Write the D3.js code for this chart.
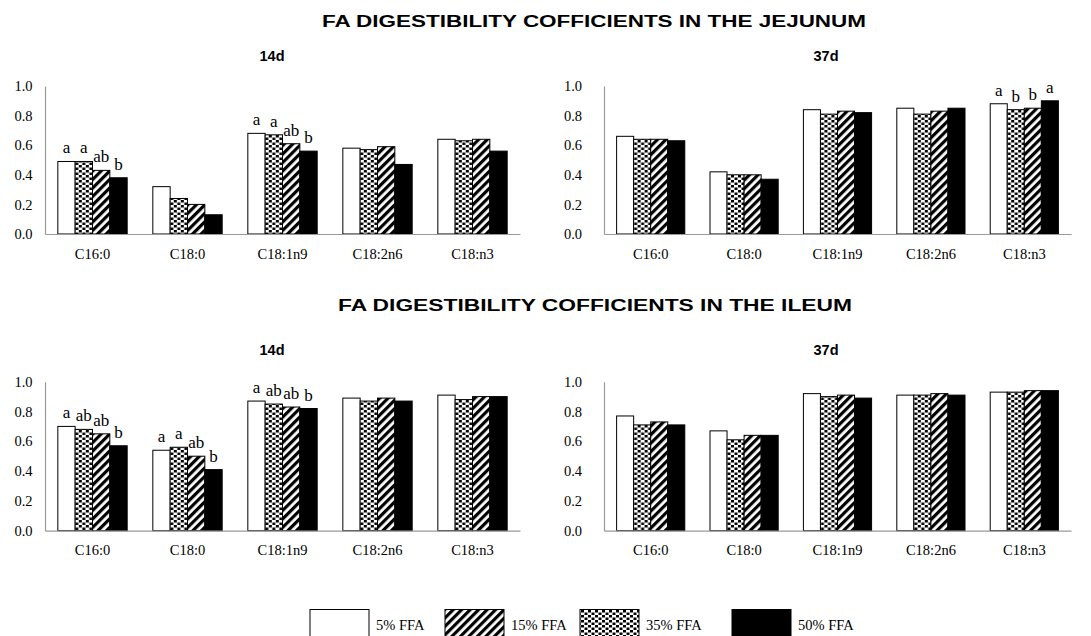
<!DOCTYPE html>
<html>
<head>
<meta charset="utf-8">
<script src="https://cdn.jsdelivr.net/npm/d3@7"></script>
<style>
  html, body { margin: 0; padding: 0; background: #fff; }
  svg { display: block; }
</style>
</head>
<body>
<svg id="chart" width="1091" height="636"></svg>
<script>
// Fatty acids on the x axis
const categories = ["C16:0", "C18:0", "C18:1n9", "C18:2n6", "C18:n3"];

// Dietary free fatty acid levels (legend order)
const levels = ["5% FFA", "15% FFA", "35% FFA", "50% FFA"];
// Order in which the bars stand inside each group
const barOrder = ["5% FFA", "35% FFA", "15% FFA", "50% FFA"];

// Digestibility coefficients, one row per level in the order of `levels`
const jejunum14d = [
  [0.49, 0.32, 0.68, 0.58, 0.64],
  [0.43, 0.20, 0.61, 0.59, 0.64],
  [0.49, 0.24, 0.67, 0.57, 0.63],
  [0.38, 0.13, 0.56, 0.47, 0.56]
];
const jejunum37d = [
  [0.66, 0.42, 0.84, 0.85, 0.88],
  [0.64, 0.40, 0.83, 0.83, 0.85],
  [0.64, 0.40, 0.81, 0.81, 0.84],
  [0.63, 0.37, 0.82, 0.85, 0.90]
];
const ileum14d = [
  [0.70, 0.54, 0.87, 0.89, 0.91],
  [0.65, 0.50, 0.83, 0.89, 0.90],
  [0.68, 0.56, 0.85, 0.87, 0.88],
  [0.57, 0.41, 0.82, 0.87, 0.90]
];
const ileum37d = [
  [0.77, 0.67, 0.92, 0.91, 0.93],
  [0.73, 0.64, 0.91, 0.92, 0.94],
  [0.71, 0.61, 0.90, 0.91, 0.93],
  [0.71, 0.64, 0.89, 0.91, 0.94]
];

// Significance letters, same layout as the values
const jejunum14dLetters = [
  ["a", "", "a", "", ""],
  ["ab", "", "ab", "", ""],
  ["a", "", "a", "", ""],
  ["b", "", "b", "", ""]
];
const jejunum37dLetters = [
  ["", "", "", "", "a"],
  ["", "", "", "", "b"],
  ["", "", "", "", "b"],
  ["", "", "", "", "a"]
];
const ileum14dLetters = [
  ["a", "a", "a", "", ""],
  ["ab", "ab", "ab", "", ""],
  ["ab", "a", "ab", "", ""],
  ["b", "b", "b", "", ""]
];
const ileum37dLetters = [
  ["", "", "", "", ""],
  ["", "", "", "", ""],
  ["", "", "", "", ""],
  ["", "", "", "", ""]
];

const yTicks = [0, 0.2, 0.4, 0.6, 0.8, 1.0];
const sectionTitles = [
  "FA DIGESTIBILITY COFFICIENTS IN THE JEJUNUM",
  "FA DIGESTIBILITY COFFICIENTS IN THE ILEUM"
];

const svg = d3.select("#chart");
svg.append("rect").attr("width", 1091).attr("height", 636).attr("fill", "#fff");

// Fill patterns: staggered square dots and diagonal stripes
const defs = svg.append("defs");
const dots = defs.append("pattern")
  .attr("id", "dots").attr("patternUnits", "userSpaceOnUse")
  .attr("width", 7).attr("height", 5);
dots.append("rect").attr("width", 7).attr("height", 5).attr("fill", "#fff");
dots.append("rect").attr("x", 0).attr("y", 0).attr("width", 3).attr("height", 2.5).attr("fill", "#000");
dots.append("rect").attr("x", 3.5).attr("y", 2.5).attr("width", 3).attr("height", 2.5).attr("fill", "#000");

const hatch = defs.append("pattern")
  .attr("id", "hatch").attr("patternUnits", "userSpaceOnUse")
  .attr("width", 6).attr("height", 6)
  .attr("patternTransform", "rotate(45)");
hatch.append("rect").attr("width", 6).attr("height", 6).attr("fill", "#fff");
hatch.append("rect").attr("width", 3.2).attr("height", 6).attr("fill", "#000");

const fillFor = {
  "5% FFA": "#fff",
  "15% FFA": "url(#hatch)",
  "35% FFA": "url(#dots)",
  "50% FFA": "#000"
};

const serif = "Liberation Serif";
const sans = "Liberation Sans";
const axisGrey = "#9a9a9a";

// Section headings
[[sectionTitles[0], 27], [sectionTitles[1], 310.5]].forEach(([t, yy], i) => {
  svg.append("text")
    .attr("x", i === 0 ? 322 : 338).attr("y", yy)
    .attr("textLength", i === 0 ? 544 : 514)
    .attr("lengthAdjust", "spacingAndGlyphs")
    .style("font-family", sans).style("font-weight", "bold")
    .style("font-size", "16px").attr("fill", "#000")
    .text(t);
});

const panels = [
  { title: "14d", values: jejunum14d, letters: jejunum14dLetters,
    left: 45, right: 520, top: 86, base: 234, titleX: 272, titleY: 61, pad: 12.5 },
  { title: "37d", values: jejunum37d, letters: jejunum37dLetters,
    left: 604, right: 1071, top: 86, base: 234, titleX: 826, titleY: 61, pad: 22 },
  { title: "14d", values: ileum14d, letters: ileum14dLetters,
    left: 45, right: 520, top: 381.7, base: 530.7, titleX: 272, titleY: 355, pad: 12.5 },
  { title: "37d", values: ileum37d, letters: ileum37dLetters,
    left: 604, right: 1071, top: 381.7, base: 530.7, titleX: 826, titleY: 355, pad: 22 }
];

panels.forEach(p => {
  const g = svg.append("g");

  const x0 = d3.scaleBand().domain(categories)
    .range([p.left, p.right]).paddingInner(0.27).paddingOuter(0.135);
  const x1 = d3.scaleBand().domain(barOrder).range([0, x0.bandwidth()]);
  const y = d3.scaleLinear().domain([0, 1]).range([p.base, p.top]);

  // Panel title
  g.append("text")
    .attr("x", p.titleX).attr("y", p.titleY)
    .attr("text-anchor", "middle")
    .style("font-family", sans).style("font-weight", "bold").style("font-size", "14.5px")
    .text(p.title);

  // Y axis
  const yAxis = g.append("g")
    .attr("transform", `translate(${p.left},0)`)
    .call(d3.axisLeft(y).tickValues(yTicks).tickFormat(d3.format(".1f"))
      .tickSize(0).tickSizeOuter(0).tickPadding(p.pad));
  yAxis.attr("font-family", null).attr("font-size", null);
  yAxis.select(".domain").attr("stroke", axisGrey).attr("stroke-width", 1.2);
  yAxis.selectAll("text")
    .style("font-family", serif).style("font-size", "14.5px").attr("fill", "#000");

  // Bars
  const rows = barOrder.map(level => {
    const i = levels.indexOf(level);
    return { level, vals: p.values[i], labs: p.letters[i] };
  });
  const groups = g.selectAll(".grp").data(categories).join("g")
    .attr("class", "grp")
    .attr("transform", c => `translate(${x0(c)},0)`);

  groups.each(function (c, ci) {
    const cell = d3.select(this);
    const bars = rows.map(r => ({ level: r.level, v: r.vals[ci], lab: r.labs[ci] }));
    cell.selectAll("rect").data(bars).join("rect")
      .attr("x", d => x1(d.level))
      .attr("y", d => y(d.v))
      .attr("width", x1.bandwidth())
      .attr("height", d => y(0) - y(d.v))
      .attr("fill", d => fillFor[d.level])
      .attr("stroke", "#000").attr("stroke-width", 1);
    cell.selectAll("text").data(bars.filter(d => d.lab)).join("text")
      .attr("x", d => x1(d.level) + x1.bandwidth() / 2)
      .attr("y", d => y(d.v) - 8)
      .attr("text-anchor", "middle")
      .style("font-family", serif).style("font-size", "17px")
      .text(d => d.lab);
  });

  // X axis
  const xAxis = g.append("g")
    .attr("transform", `translate(0,${p.base})`)
    .call(d3.axisBottom(x0).tickSize(0).tickSizeOuter(0).tickPadding(14.5));
  xAxis.attr("font-family", null).attr("font-size", null);
  xAxis.select(".domain").attr("stroke", axisGrey).attr("stroke-width", 1.2);
  xAxis.selectAll("text")
    .style("font-family", serif).style("font-size", "14.5px").attr("fill", "#000");
});

// Legend
const legendX = [310, 445, 580, 732];
const legend = svg.append("g");
levels.forEach((lv, i) => {
  legend.append("rect")
    .attr("x", legendX[i]).attr("y", 609.5)
    .attr("width", 59).attr("height", 30)
    .attr("fill", fillFor[lv]).attr("stroke", "#000").attr("stroke-width", 1);
  legend.append("text")
    .attr("x", legendX[i] + 66).attr("y", 630)
    .style("font-family", serif).style("font-size", "14.5px")
    .text(lv);
});
</script>
</body>
</html>
